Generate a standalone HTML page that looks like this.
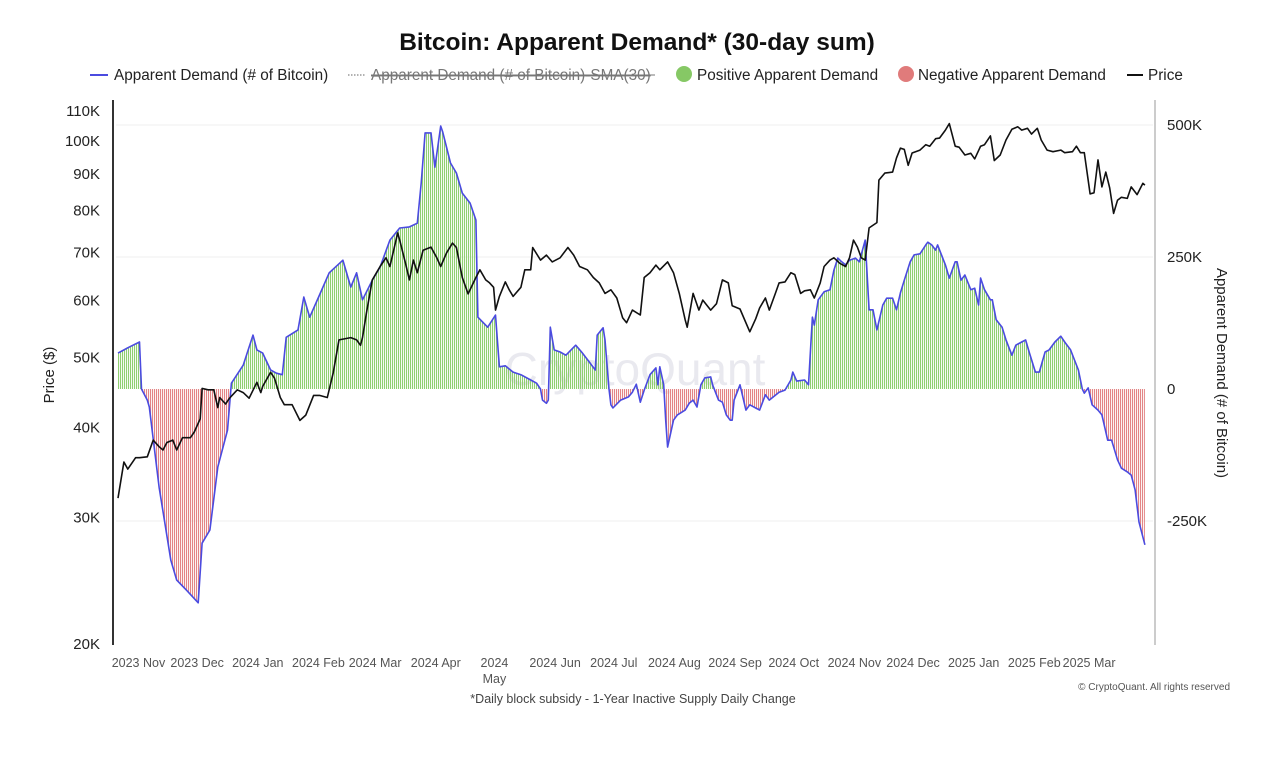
<!DOCTYPE html>
<html><head><meta charset="utf-8"><style>
body{margin:0;background:#fff;font-family:"Liberation Sans",sans-serif;}
svg text{font-family:"Liberation Sans",sans-serif;}
</style></head><body>
<svg id="chart" width="1280" height="766" viewBox="0 0 1280 766" xmlns="http://www.w3.org/2000/svg">
<defs>
<pattern id="pg" width="2" height="4" patternUnits="userSpaceOnUse"><rect x="0" y="0" width="1.1" height="4" fill="#8fcf70"/></pattern>
<pattern id="pr" width="2" height="4" patternUnits="userSpaceOnUse"><rect x="0" y="0" width="1.1" height="4" fill="#e38585"/></pattern>
<clipPath id="cpos"><rect x="100" y="90" width="1070" height="299"/></clipPath>
<clipPath id="cneg"><rect x="100" y="389" width="1070" height="280"/></clipPath>
</defs>
<text x="637" y="50" text-anchor="middle" font-size="24.5" font-weight="bold" fill="#111">Bitcoin: Apparent Demand* (30-day sum)</text>
<g font-size="15.3" fill="#222">
<g><line x1="90" y1="75" x2="108" y2="75" stroke="#4b4be0" stroke-width="2"/><text x="114" y="80">Apparent Demand (# of Bitcoin)</text></g>
<g><line x1="348" y1="75" x2="366" y2="75" stroke="#999" stroke-width="1.5" stroke-dasharray="1.5,1.5"/><text x="371" y="80" fill="#777" text-decoration="line-through">Apparent Demand (# of Bitcoin)-SMA(30)</text><line x1="371" y1="75" x2="655" y2="75" stroke="#777" stroke-width="1"/></g>
<g><circle cx="684" cy="74" r="8" fill="#86c865"/><text x="697" y="80">Positive Apparent Demand</text></g>
<g><circle cx="906" cy="74" r="8" fill="#e07b7b"/><text x="918" y="80">Negative Apparent Demand</text></g>
<g><line x1="1127" y1="75" x2="1143" y2="75" stroke="#111" stroke-width="2"/><text x="1148" y="80">Price</text></g>
</g>
<g id="grid"></g>
<text x="635" y="385" text-anchor="middle" font-size="46" fill="#d8d8e2" opacity="0.55">CryptoQuant</text>
<g id="bars"></g>
<g id="lines"></g>
<line x1="113" y1="100" x2="113" y2="645" stroke="#333" stroke-width="2"/>
<line x1="1155" y1="100" x2="1155" y2="645" stroke="#ccc" stroke-width="2"/>
<g id="laxis" font-size="15" fill="#222" text-anchor="end"></g>
<g id="raxis" font-size="15" fill="#222"></g>
<g id="xaxis" font-size="12.5" fill="#555" text-anchor="middle"></g>
<text transform="translate(54,375) rotate(-90)" text-anchor="middle" font-size="15" fill="#222">Price ($)</text>
<text transform="translate(1217,373) rotate(90)" text-anchor="middle" font-size="15" fill="#222">Apparent Demand (# of Bitcoin)</text>
<text x="633" y="703" text-anchor="middle" font-size="12.5" fill="#444">*Daily block subsidy - 1-Year Inactive Supply Daily Change</text>
<text x="1230" y="690" text-anchor="end" font-size="10" fill="#555">© CryptoQuant. All rights reserved</text>
</svg>
<script>
const demandDays=[0,6,11,12,15,16,21,27,30,35,41,43,47,51,56,58,64,69,71,74,78,81,84,86,92,95,98,103,108,115,119,122,125,130,134,139,144,149,153,155,157,160,162,165,166,170,173,176,180,183,184,189,193,195,198,202,206,211,214,216,217,219,220,221,223,226,229,234,237,241,244,245,248,249,251,252,253,257,261,263,265,267,269,272,275,276,277,279,280,281,284,286,290,292,294,296,298,300,303,304,307,309,311,313,314,315,318,321,323,326,328,331,333,338,341,344,345,347,351,353,355,356,358,361,364,366,368,370,372,374,377,379,382,384,386,388,391,393,396,398,400,402,405,407,410,413,414,416,418,419,421,423,425,428,429,431,433,436,438,440,441,443,446,447,449,452,454,457,459,462,464,466,469,471,474,476,479,482,484,487,489,491,493,494,496,498,501,503,506,508,511,513,516,518,520,522,525];
const demandK=[68,80,89,0,-21,-34,-186,-324,-362,-381,-405,-292,-267,-148,-78,11,45,102,74,68,36,30,27,98,112,174,136,178,220,244,193,220,169,206,231,282,305,307,314,390,485,485,420,498,487,428,409,371,352,320,136,117,140,42,44,32,27,17,11,0,-21,-27,-21,117,74,70,64,83,70,51,36,102,116,93,0,-30,-36,-21,-15,-6,9,-25,-2,27,40,8,42,8,-59,-110,-59,-49,-40,-27,-21,-34,8,21,23,8,-21,-25,-49,-59,-59,-21,8,-40,-30,-36,-40,-11,-21,-6,-2,17,32,15,17,8,136,121,169,184,188,225,248,241,235,244,248,241,282,150,150,112,159,172,172,150,182,206,241,254,256,273,278,273,263,273,254,235,210,241,241,206,216,188,191,159,210,188,169,169,131,117,93,64,83,89,93,68,32,32,70,74,89,100,89,74,55,36,0,-8,2,-30,-40,-49,-97,-97,-134,-150,-157,-163,-191,-252,-295];
const priceDays=[0,3,5,9,11,15,18,21,23,25,28,30,33,37,39,42,43,46,49,51,52,55,57,61,64,67,71,73,74,78,80,83,85,89,93,96,100,103,107,110,113,119,122,124,125,127,130,134,137,139,143,144,147,149,151,153,156,160,163,165,168,171,173,176,179,183,185,188,190,192,193,195,198,200,202,206,208,211,212,216,219,222,226,230,233,236,240,243,246,249,252,255,258,260,263,267,269,272,275,277,281,284,287,290,291,294,297,299,303,306,309,312,314,318,322,323,326,328,331,333,336,338,341,344,346,349,351,354,356,359,361,364,366,369,372,374,376,378,380,382,384,388,389,392,396,398,400,402,404,406,410,413,415,418,420,423,425,428,430,433,436,438,441,443,446,448,451,454,457,460,462,465,467,470,472,475,478,482,484,488,490,492,494,497,499,501,503,505,507,509,511,513,516,518,521,524,525];
const priceK=[31.9,35.8,35.0,36.3,36.3,36.4,38.4,37.6,37.2,38.1,38.4,37.2,38.7,38.7,39.4,41.1,45.3,45.1,45.1,42.6,44.0,43.1,43.9,45.1,44.7,43.9,46.2,44.7,45.6,47.7,46.8,44.0,43.0,43.0,40.9,41.6,44.3,44.3,44.0,47.6,52.9,53.3,52.9,52.0,53.3,57.6,64.1,66.9,68.8,66.9,74.5,72.8,67.6,64.1,68.3,65.6,70.5,71.2,68.8,66.9,69.9,72.1,71.1,64.6,61.3,64.6,66.2,64.1,63.5,62.6,58.2,60.8,63.7,62.1,60.8,62.6,66.2,66.2,71.1,68.3,69.4,67.9,68.8,71.1,69.4,66.9,66.2,64.6,63.5,61.4,62.1,60.5,56.8,55.9,58.2,57.3,64.6,65.6,67.2,66.2,67.9,65.6,61.3,56.4,55.1,61.4,58.2,60.1,58.2,59.4,64.1,63.5,59.0,58.4,55.1,54.3,56.6,58.6,60.5,58.2,61.3,63.5,63.7,65.6,65.2,61.4,61.9,62.1,60.5,63.5,66.9,68.3,68.8,67.6,66.9,68.8,72.8,71.2,68.8,68.3,75.7,77.0,88.2,90.2,90.5,94.7,97.7,97.3,92.5,96.2,97.1,98.8,98.3,100.7,100.9,103.5,105.7,98.3,98.0,95.6,96.1,94.4,98.3,98.8,101.6,93.9,95.6,100.3,103.8,104.6,103.5,104.1,102.2,104.1,100.3,97.1,96.6,97.1,96.3,96.6,98.3,96.3,96.3,84.4,84.7,94.1,86.3,90.5,86.0,79.3,82.7,83.5,83.2,86.3,84.2,87.3,86.8];
const priceTicks=[20,30,40,50,60,70,80,90,100,110];
const demandTicks=[-250,0,250,500];
const monthLabels=["2023 Nov","2023 Dec","2024 Jan","2024 Feb","2024 Mar","2024 Apr","2024 May","2024 Jun","2024 Jul","2024 Aug","2024 Sep","2024 Oct","2024 Nov","2024 Dec","2025 Jan","2025 Feb","2025 Mar"];
const monthDays=[12,42,73,104,133,164,194,225,255,286,317,347,378,408,439,470,498];

const NS="http://www.w3.org/2000/svg";
const xS=d=>118+d*1.956;
const yP=p=>644-312.6*Math.log(p/20);
const yD=v=>389-v*132/250;
function mk(tag,attrs,parent){const e=document.createElementNS(NS,tag);for(const k in attrs)e.setAttribute(k,attrs[k]);parent.appendChild(e);return e;}
const grid=document.getElementById('grid');
demandTicks.forEach(t=>{if(t===0)return;const l=mk('line',{x1:116,x2:1153,y1:yD(t),y2:yD(t),stroke:'#efefef','stroke-width':1},grid);

});
const la=document.getElementById('laxis');
priceTicks.forEach(t=>{const e=mk('text',{x:100,y:yP(t)+5},la);e.textContent=t+'K';

});
const ra=document.getElementById('raxis');
demandTicks.forEach(t=>{const e=mk('text',{x:1167,y:yD(t)+5},ra);e.textContent=(t===0?'0':t+'K');

});
const xa=document.getElementById('xaxis');
monthLabels.forEach((m,i)=>{const x=xS(monthDays[i])-3;
if(m==="2024 May"){const e=mk('text',{x:x,y:667},xa);e.textContent="2024";const e2=mk('text',{x:x,y:683},xa);e2.textContent="May";



}
else{const e=mk('text',{x:x,y:667},xa);e.textContent=m;

}});
let pts=demandDays.map((d,i)=>xS(d).toFixed(1)+','+yD(demandK[i]).toFixed(1));
const areaPts=xS(demandDays[0])+','+yD(0)+' '+pts.join(' ')+' '+xS(demandDays[demandDays.length-1])+','+yD(0);
const bars=document.getElementById('bars');
const ap=mk('polygon',{points:areaPts,fill:'url(#pg)','clip-path':'url(#cpos)'},bars);


const an=mk('polygon',{points:areaPts,fill:'url(#pr)','clip-path':'url(#cneg)'},bars);


const lines=document.getElementById('lines');
const dl=mk('polyline',{points:pts.join(' '),fill:'none',stroke:'#4b4be0','stroke-width':1.6,'stroke-linejoin':'round'},lines);


const pp=priceDays.map((d,i)=>xS(d).toFixed(1)+','+yP(priceK[i]).toFixed(1)).join(' ');
const pl=mk('polyline',{points:pp,fill:'none',stroke:'#111','stroke-width':1.6,'stroke-linejoin':'round'},lines);


</script>
</body></html>
